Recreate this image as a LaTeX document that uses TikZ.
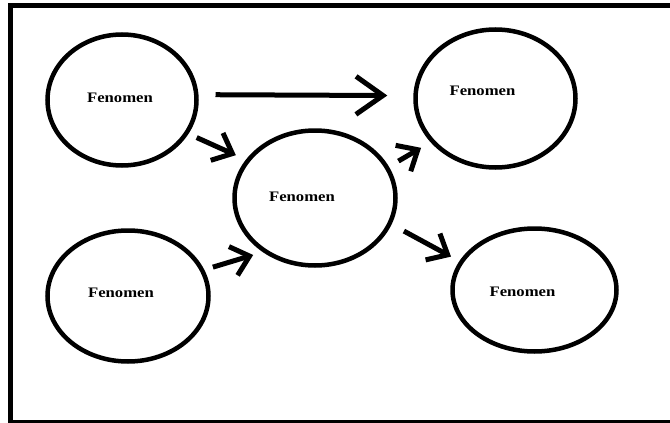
\documentclass[tikz,border=0pt]{standalone}
\usepackage{fontspec}
\setmainfont{Liberation Serif}[FakeStretch=1.15]
\usetikzlibrary{shapes.geometric,arrows.meta}

\tikzstyle{phen} = [ellipse, draw, line width=4.5pt, inner sep=0pt]
\tikzstyle{lbl} = [font=\bfseries\fontsize{14.5}{16}\selectfont]
\tikzstyle{link} = [line width=5pt, -{Straight Barb[length=17pt,width=30pt]}]

\begin{document}
\begin{tikzpicture}[x=1pt, y=-1pt]
  \useasboundingbox (0,0) rectangle (670,423);
  \clip (0,0) rectangle (670,423);
  \draw[line width=5pt] (675,5.5) -- (10,5.5) -- (10,422) -- (675,422);

  \node[phen, minimum width=149pt, minimum height=131pt,
    label={[lbl, xshift=-2pt, yshift=2pt]center:Fenomen}] (tl) at (122,100) {};
  \node[phen, minimum width=161pt, minimum height=135pt,
    label={[lbl, xshift=-13pt, yshift=1pt]center:Fenomen}] (c) at (315,198) {};
  \node[phen, minimum width=160pt, minimum height=138pt,
    label={[lbl, xshift=-13pt, yshift=7.5pt]center:Fenomen}] (tr) at (495.5,98.5) {};
  \node[phen, minimum width=161pt, minimum height=131pt,
    label={[lbl, xshift=-7pt, yshift=3pt]center:Fenomen}] (bl) at (128,296) {};
  \node[phen, minimum width=164pt, minimum height=123pt,
    label={[lbl, xshift=-12pt, yshift=-2pt]center:Fenomen}] (br) at (534.5,290) {};

  \draw[link, -{Straight Barb[length=27pt,width=38pt]},
    shorten <=17pt, shorten >=26pt] (tl.4) -- (tr.178);
  \draw[link, shorten <=9pt, shorten >=11pt] (tl.-27) -- (c.151);
  \draw[link, shorten <=9pt, shorten >=10pt] (bl.19) -- (c.226);
  \draw[link, shorten <=11pt, shorten >=11pt] (c.23) -- (tr.214);
  \draw[link, shorten <=14pt, shorten >=9.5pt] (c.-19) -- (br.159);
\end{tikzpicture}
\end{document}
